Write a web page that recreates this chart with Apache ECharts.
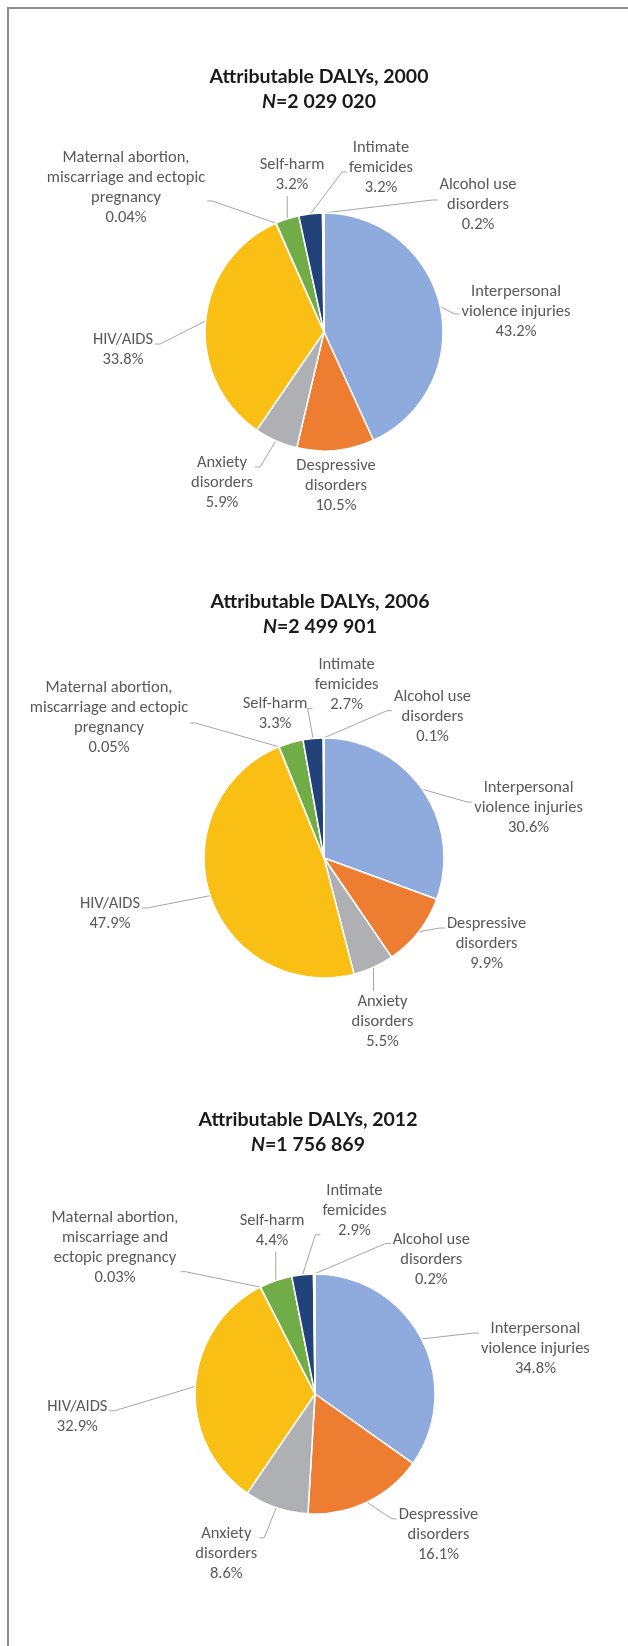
<!DOCTYPE html>
<html>
<head>
<meta charset="utf-8">
<script src="https://cdn.jsdelivr.net/npm/echarts@6/dist/echarts.min.js"></script>
<style>
html, body { margin: 0; padding: 0; background: #ffffff; }
#chart { position: absolute; left: 0; top: 0; width: 628px; height: 1646px; }
#frame { position: absolute; left: 7px; top: 7px; width: 640px; height: 1660px;
  border-top: 2px solid #8c8c8c; border-left: 2px solid #8c8c8c; pointer-events: none; }
</style>
</head>
<body>
<div id="chart"></div>
<div id="frame"></div>
<script>
// ---------------- data ----------------
const categories = [
  'Interpersonal violence injuries',
  'Despressive disorders',
  'Anxiety disorders',
  'HIV/AIDS',
  'Maternal abortion, miscarriage and ectopic pregnancy',
  'Self-harm',
  'Intimate femicides',
  'Alcohol use disorders'
];
const years = ['2000', '2006', '2012'];
const totals = ['2 029 020', '2 499 901', '1 756 869'];
const values2000 = [43.2, 10.5, 5.9, 33.8, 0.04, 3.2, 3.2, 0.2];
const values2006 = [30.6, 9.9, 5.5, 47.9, 0.05, 3.3, 2.7, 0.1];
const values2012 = [34.8, 16.1, 8.6, 32.9, 0.03, 4.4, 2.9, 0.2];
// label texts with the line breaks of the original
const labelText2000 = ['Interpersonal\nviolence injuries', 'Despressive\ndisorders', 'Anxiety\ndisorders', 'HIV/AIDS',
  'Maternal abortion,\nmiscarriage and ectopic\npregnancy', 'Self-harm', 'Intimate\nfemicides', 'Alcohol use\ndisorders'];
const labelText2006 = labelText2000;
const labelText2012 = ['Interpersonal\nviolence injuries', 'Despressive\ndisorders', 'Anxiety\ndisorders', 'HIV/AIDS',
  'Maternal abortion,\nmiscarriage and\nectopic pregnancy', 'Self-harm', 'Intimate\nfemicides', 'Alcohol use\ndisorders'];

const seriesValues = [values2000, values2006, values2012];
const seriesLabels = [labelText2000, labelText2006, labelText2012];

// ---------------- style / layout ----------------
const colors = ['#8FAADC', '#ED7D31', '#AFB0B3', '#F9BF14', '#4472C4', '#70AD47', '#22427A', '#9E480E'];
const LABEL_FONT = 'Carlito, Lato, sans-serif';
const LH = 20;      // label line height
const STUB = 5;     // horizontal stub of leader lines
// label placement: [centerX, firstLineCenterY, anchorSide, anchorLine]
const layouts = [
  { center: [324, 332], r: 119, titleX: 319, titleTop: 64,
    labels: [[516, 292, 'l', 1.1], [336, 466, null], [222, 463, 'r', 0.2], [123, 340, 'r', 0.2],
             [126, 158, 'r', 2.15], [292, 165, 'b'], [381, 148, 'l', 1.2], [478, 185, 'l', 0.75]] },
  { center: [324, 858], r: 120, titleX: 320, titleTop: 589.5,
    labels: [[528.6, 788, 'l', 0.7], [486.6, 924, 'l', 0.2], [382.5, 1002, 't'], [110, 904, 'r', 0.2],
             [109, 688, 'r', 1.75], [275, 703.5, null], [346.6, 664.6, 'l', 2.2], [432.5, 696.7, 'l', 0.7]] },
  { center: [315, 1394], r: 120, titleX: 308, titleTop: 1107.5,
    labels: [[535.4, 1329, 'l', 0.2], [438.5, 1514.8, 'l', 0.2], [226.3, 1533.8, 'r', 0.2], [77.3, 1406.8, 'r', 0.2],
             [115, 1217.7, 'r', 2.7], [272, 1220.7, 'b'], [354.4, 1190.8, 'l', 2.2], [431.3, 1239.4, 'l', 0.2]] }
];

function labelLayoutFn(params) {
  const cfg = layouts[params.seriesIndex].labels[params.dataIndex];
  const x = cfg[0];
  const yTop = cfg[1] - LH / 2;
  const w = params.labelRect.width, h = params.labelRect.height;
  const left = x - w / 2, right = x + w / 2, bottom = yTop + h;
  const out = { x: x, y: yTop, align: 'center', verticalAlign: 'top' };
  const pts = params.labelLinePoints;
  if (pts && pts.length && cfg[2]) {
    const p0 = pts[0];
    let a, s;
    if (cfg[2] === 'l') {
      const ay = yTop + LH * (cfg[3] + 0.5);
      a = [left - 2, ay]; s = [left - 2 - STUB, ay];
    } else if (cfg[2] === 'r') {
      const ay = yTop + LH * (cfg[3] + 0.5);
      a = [right + 2, ay]; s = [right + 2 + STUB, ay];
    } else if (cfg[2] === 'b') {
      const ax = Math.min(Math.max(p0[0], left), right);
      a = [ax, bottom + 1]; s = a;
    } else {
      const ax = Math.min(Math.max(p0[0], left), right);
      a = [ax, yTop - 1]; s = a;
    }
    out.labelLinePoints = [[p0[0], p0[1]], s, a];
  }
  return out;
}

const chart = echarts.init(document.getElementById('chart'), null, { renderer: 'canvas' });

const titleRich = {
  b: { fontFamily: 'Lato', fontWeight: 'bold', fontSize: 19.5, lineHeight: 25, color: '#1a1a1a' },
  i: { fontFamily: 'Lato', fontWeight: 'bold', fontStyle: 'italic', fontSize: 19.5, lineHeight: 25, color: '#1a1a1a' }
};

const option = {
  backgroundColor: '#ffffff',
  animation: false,
  color: colors,
  title: layouts.map((c, i) => ({
    text: '{b|Attributable DALYs, ' + years[i] + '}\n{i|N}{b|=' + totals[i] + '}',
    left: c.titleX,
    top: c.titleTop,
    textAlign: 'center',
    padding: 0,
    textStyle: { rich: titleRich }
  })),
  series: layouts.map((c, si) => ({
    type: 'pie',
    center: c.center,
    radius: c.r,
    startAngle: 90,
    clockwise: true,
    avoidLabelOverlap: false,
    itemStyle: { borderColor: '#ffffff', borderWidth: 1.5 },
    label: {
      show: true,
      position: 'outside',
      fontFamily: LABEL_FONT,
      fontSize: 16.5,
      lineHeight: LH,
      color: '#595959',
      overflow: 'none',
      formatter: p => seriesLabels[si][p.dataIndex] + '\n' + p.value + '%'
    },
    labelLine: { show: true, length: 10, length2: 5, smooth: false,
      lineStyle: { color: '#a6a6a6', width: 1 } },
    labelLayout: labelLayoutFn,
    emphasis: { disabled: true },
    data: seriesValues[si].map((v, di) => {
      const item = { name: categories[di], value: v };
      if (!c.labels[di][2]) item.labelLine = { show: false };
      return item;
    })
  }))
};

chart.setOption(option);
</script>
</body>
</html>
